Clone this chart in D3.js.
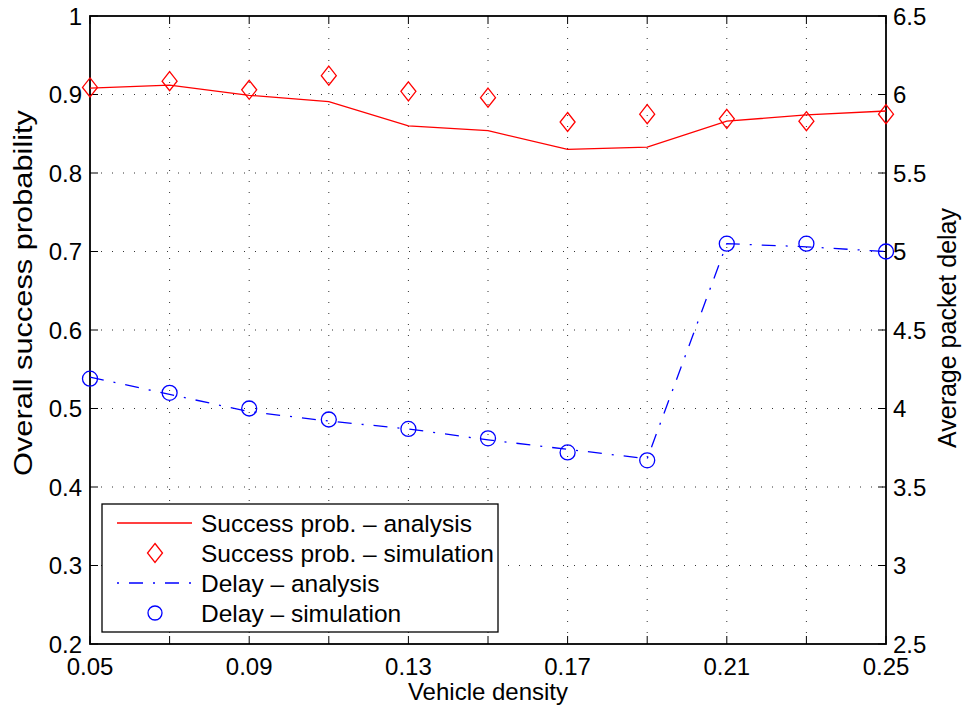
<!DOCTYPE html>
<html>
<head>
<meta charset="utf-8">
<script src="https://cdn.jsdelivr.net/npm/d3@7"></script>
<style>
  body { margin: 0; background: #fff; }
  text { font-family: "Liberation Sans", Arial, sans-serif; }
</style>
</head>
<body>
<script>
// data
let density = [0.05, 0.07, 0.09, 0.11, 0.13, 0.15, 0.17, 0.19, 0.21, 0.23, 0.25]
let successAnalysis = [0.908, 0.912, 0.899, 0.891, 0.860, 0.854, 0.830, 0.833, 0.866, 0.874, 0.879]
let successSim = [0.909, 0.917, 0.906, 0.924, 0.904, 0.896, 0.865, 0.875, 0.869, 0.866, 0.875]
let delayAnalysis = [4.20, 4.09, 3.98, 3.92, 3.87, 3.80, 3.74, 3.68, 5.05, 5.03, 5.00]
let delaySim = [4.19, 4.10, 4.00, 3.93, 3.87, 3.81, 3.72, 3.67, 5.05, 5.05, 5.00]
let xTickLabels = [0.05, 0.09, 0.13, 0.17, 0.21, 0.25]
let leftTicks = [0.2, 0.3, 0.4, 0.5, 0.6, 0.7, 0.8, 0.9, 1]
let rightTicks = [2.5, 3, 3.5, 4, 4.5, 5, 5.5, 6, 6.5]
let legendLabels = ['Success prob. \u2013 analysis', 'Success prob. \u2013 simulation', 'Delay \u2013 analysis', 'Delay \u2013 simulation']

let width = 966
let height = 710
let pLeft = 90, pRight = 886, pTop = 16, pBottom = 644
let fontSize = 24

let svg = d3.select('body')
  .append('svg')
  .attr('width', width)
  .attr('height', height)

let scaleX = d3.scaleLinear().domain([0.05, 0.25]).range([pLeft, pRight])
let scaleY1 = d3.scaleLinear().domain([0.2, 1]).range([pBottom, pTop])
let scaleY2 = d3.scaleLinear().domain([2.5, 6.5]).range([pBottom, pTop])

// grid
let grid = svg.append('g')
grid.selectAll('.vgrid').data(density.slice(1, -1))
  .enter().append('line')
  .attr('x1', d => scaleX(d)).attr('x2', d => scaleX(d))
  .attr('y1', pTop).attr('y2', pBottom)
  .attr('stroke', '#333').attr('stroke-width', 1)
  .attr('stroke-dasharray', '1,10')
grid.selectAll('.hgrid').data(leftTicks.slice(1, -1))
  .enter().append('line')
  .attr('x1', pLeft).attr('x2', pRight)
  .attr('y1', d => scaleY1(d)).attr('y2', d => scaleY1(d))
  .attr('stroke', '#333').attr('stroke-width', 1)
  .attr('stroke-dasharray', '1,10')

// ticks inward
let tickLen = 8
let ticks = svg.append('g').attr('stroke', '#000').attr('stroke-width', 1)
density.forEach(d => {
  ticks.append('line').attr('x1', scaleX(d)).attr('x2', scaleX(d)).attr('y1', pBottom).attr('y2', pBottom - tickLen)
  ticks.append('line').attr('x1', scaleX(d)).attr('x2', scaleX(d)).attr('y1', pTop).attr('y2', pTop + tickLen)
})
leftTicks.forEach(d => {
  ticks.append('line').attr('x1', pLeft).attr('x2', pLeft + tickLen).attr('y1', scaleY1(d)).attr('y2', scaleY1(d))
})
rightTicks.forEach(d => {
  ticks.append('line').attr('x1', pRight).attr('x2', pRight - tickLen).attr('y1', scaleY2(d)).attr('y2', scaleY2(d))
})

// box
svg.append('rect')
  .attr('x', pLeft).attr('y', pTop)
  .attr('width', pRight - pLeft).attr('height', pBottom - pTop)
  .attr('fill', 'none').attr('stroke', '#000').attr('stroke-width', 1.8)

// tick labels
svg.selectAll('.xlab').data(xTickLabels).enter().append('text')
  .attr('x', d => scaleX(d)).attr('y', pBottom + 31)
  .attr('text-anchor', 'middle').attr('font-size', fontSize)
  .text(d => d.toFixed(2))
svg.selectAll('.ylab').data(leftTicks).enter().append('text')
  .attr('x', pLeft - 8).attr('y', d => scaleY1(d) + 8.5)
  .attr('text-anchor', 'end').attr('font-size', fontSize)
  .text(d => d3.format('~g')(d))
svg.selectAll('.y2lab').data(rightTicks).enter().append('text')
  .attr('x', pRight + 7).attr('y', d => scaleY2(d) + 8.5)
  .attr('text-anchor', 'start').attr('font-size', fontSize)
  .text(d => d3.format('~g')(d))

// axis titles
svg.append('text').attr('x', (pLeft + pRight) / 2).attr('y', 700)
  .attr('text-anchor', 'middle').attr('font-size', fontSize).text('Vehicle density')
svg.append('text').attr('transform', 'translate(32,293) rotate(-90)')
  .attr('text-anchor', 'middle').attr('font-size', 25)
  .attr('textLength', 366).attr('lengthAdjust', 'spacingAndGlyphs')
  .text('Overall success probability')
svg.append('text').attr('transform', 'translate(956,328) rotate(-90)')
  .attr('text-anchor', 'middle').attr('font-size', 25).text('Average packet delay')

// series
let line1 = d3.line().x((d, i) => scaleX(density[i])).y(d => scaleY1(d))
let line2 = d3.line().x((d, i) => scaleX(density[i])).y(d => scaleY2(d))

svg.append('path').datum(successAnalysis)
  .attr('d', line1).attr('fill', 'none')
  .attr('stroke', '#ff0000').attr('stroke-width', 1.3)

svg.append('path').datum(delayAnalysis)
  .attr('d', line2).attr('fill', 'none')
  .attr('stroke', '#0000ff').attr('stroke-width', 1.3)
  .attr('stroke-dasharray', '14,10,2,10')

function diamond(cx, cy) {
  return 'M' + cx + ',' + (cy - 9.5) + 'L' + (cx + 7.5) + ',' + cy + 'L' + cx + ',' + (cy + 9.5) + 'L' + (cx - 7.5) + ',' + cy + 'Z'
}

svg.selectAll('.dia').data(successSim).enter().append('path')
  .attr('d', (d, i) => diamond(scaleX(density[i]), scaleY1(d)))
  .attr('fill', 'none').attr('stroke', '#ff0000').attr('stroke-width', 1.3)

svg.selectAll('.circ').data(delaySim).enter().append('circle')
  .attr('cx', (d, i) => scaleX(density[i])).attr('cy', d => scaleY2(d))
  .attr('r', 7.5)
  .attr('fill', 'none').attr('stroke', '#0000ff').attr('stroke-width', 1.3)

// legend
let lg = svg.append('g')
lg.append('rect')
  .attr('x', 102).attr('y', 504).attr('width', 396).attr('height', 128)
  .attr('fill', '#fff').attr('stroke', '#000').attr('stroke-width', 1.3)
let rowY = [523, 553, 583, 613]
legendLabels.forEach((t, i) => {
  lg.append('text').attr('x', 201).attr('y', rowY[i] + 9)
    .attr('font-size', 24.5).text(t)
})
lg.append('line').attr('x1', 117).attr('x2', 192).attr('y1', rowY[0]).attr('y2', rowY[0])
  .attr('stroke', '#ff0000').attr('stroke-width', 1.3)
lg.append('path').attr('d', diamond(155, rowY[1]))
  .attr('fill', 'none').attr('stroke', '#ff0000').attr('stroke-width', 1.3)
lg.append('line').attr('x1', 117).attr('x2', 192).attr('y1', rowY[2]).attr('y2', rowY[2])
  .attr('stroke', '#0000ff').attr('stroke-width', 1.3)
  .attr('stroke-dasharray', '2,10,14,10')
lg.append('circle').attr('cx', 155).attr('cy', rowY[3]).attr('r', 7)
  .attr('fill', 'none').attr('stroke', '#0000ff').attr('stroke-width', 1.3)
</script>
</body>
</html>
